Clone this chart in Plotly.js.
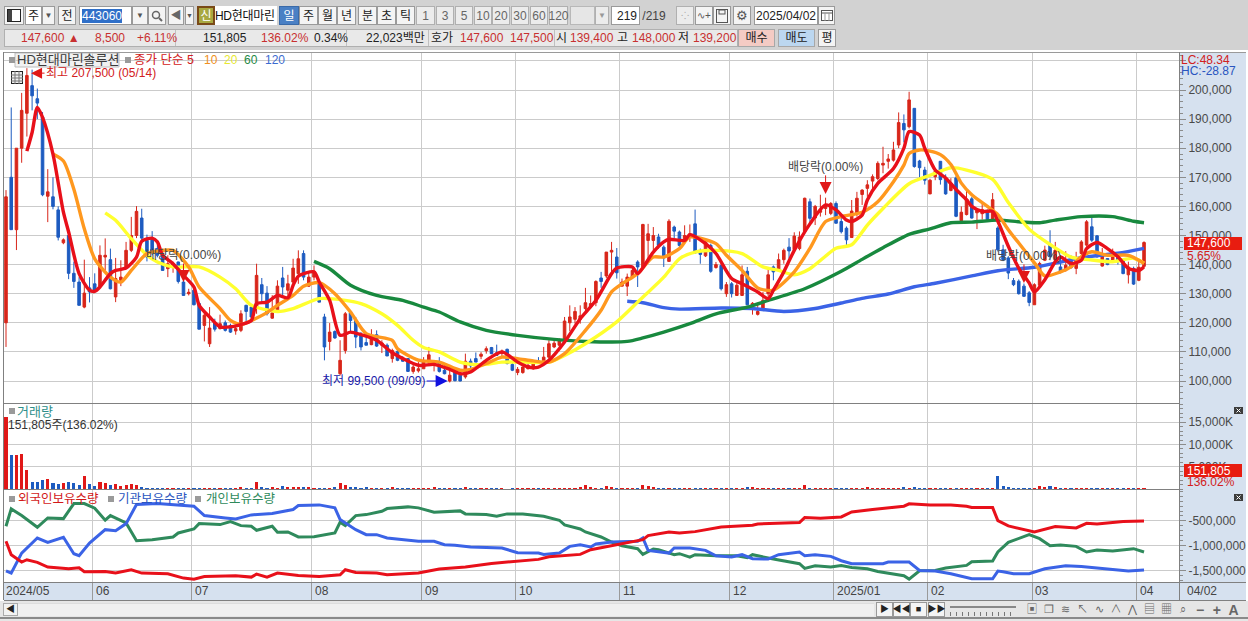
<!DOCTYPE html>
<html lang="ko"><head><meta charset="utf-8">
<script src="https://cdn.plot.ly/plotly-3.0.1.min.js"></script>
<style>
html,body{margin:0;padding:0;width:1248px;height:621px;overflow:hidden;background:#d0d0d0;font-family:"Liberation Sans","Noto Sans CJK KR",sans-serif;font-size:12px;color:#222}
#ui{position:absolute;left:0;top:0;width:1248px;height:621px}
#ui div{position:absolute;box-sizing:border-box;white-space:nowrap;line-height:1;display:flex;align-items:center;justify-content:center}
#chart{position:absolute;left:0;top:0;width:1248px;height:621px}
</style></head><body>
<div id="ui"></div><div id="chart"></div>
<script>
// ---------- DATA (prices in KRW thousands, volume in thousand shares, holdings in thousand shares) ----------
const opens=[120,170,152,180,192,201.5,197,190.7,163.5,163.3,158.8,147.5,150,137,134,125.4,132,133.4,132.6,142.6,141.7,128.9,134.6,139.2,144.9,150,156,148.3,148.9,145.5,143.8,138.6,139,140.9,134,130,131.2,126.6,119.1,112.8,120,118,120,119.1,117.2,117.4,126,125.4,125.4,133.1,130.2,121.6,123.9,135.4,131.2,134,136.9,143.8,132.6,135.7,133.4,122,113.6,117,102.5,110.5,123.5,120.8,115.7,113.2,112.5,115.9,112.3,112.3,107.7,110.2,107.7,107.7,103.3,103.5,104.2,106.5,106,106.5,103.7,100,103.3,102,101.4,106.8,107.7,108.5,110.4,111.5,109.7,109.5,110.9,105.7,102.9,102.9,104.2,104.2,106.9,106.9,108.2,111.7,112.3,113.6,120,121.2,121.2,124.9,125.4,126.9,135.4,136.1,144.3,142.6,132.6,132.6,135.7,140.9,139.2,148.3,148.3,149.5,146,141.1,152.9,151.2,147.8,149.5,154,144.3,143,146.6,139,139.7,130,133.4,129.4,129.4,137.7,125.9,122.9,124.5,130,139.2,138,141.7,146,145.2,145.5,151.3,161.6,156,158,159.3,157.6,161,154.8,152.5,149.3,157.6,164.1,166.2,168.7,169.6,174.2,175.5,175.9,181.1,188.5,187.4,193.7,175.6,172.5,164.3,170.2,175.5,169.8,165.5,169.8,155.1,157.2,162.6,157.8,157.5,158.5,155.5,152.6,145.1,142.3,134.5,134.3,132.6,130.3,126.2,132.9,141.5,146.7,141.5,139.2,138.1,141.5,138.7,143.8,146.7,153,149.9,139.5,142.1,141.5,143.5,141.2,136.5,138.7,134.6,139.4];
const highs=[165.6,194,180,199,207.5,207,200.5,192.4,172.8,170,160,149,150.5,141,135.7,141.7,135.7,137,146.6,149,145.5,142.3,141.5,147.8,156.4,160.1,159.2,150.3,151.5,147,145.5,143.2,141,141,137.5,131.7,132.3,126.8,123.7,125.4,121.4,122.8,120.8,119.7,118.6,124.3,126.2,126,140.3,135.4,132.6,129.5,134.6,139.2,136.5,142,144.9,144.9,136.9,139.7,134,123.1,119.9,117.4,114,123.7,124.3,122,116.8,115.7,117.8,117.4,114,112.9,111.1,110.8,108.5,107.9,106.5,106.5,108.2,111.7,107.2,108.2,105.4,103.7,103.7,102.2,109.4,107.7,109.8,109.9,111.9,111.7,112.5,110.8,111.1,106.5,104.8,105,106,106.5,108.2,111.7,114,114.3,114.6,122,126,125.4,126,132,129.4,134.6,137.5,144.3,147.8,145.7,135.2,136.9,139.2,141.5,154,154,152.9,150.6,146.6,155.6,153.4,151.7,153.5,153.8,158.9,145.5,148.9,147.2,140.9,140.3,134,134,134,139.7,139.2,127.1,126.6,130.6,138.6,139.7,143.8,145.5,149.1,151.1,151.4,163,162.7,160.5,164,163,161.5,161.7,156,153.1,162.2,165,165.9,169,171,175.5,180.5,178,182.2,192.3,191.6,199.4,193.7,176,173.6,169.5,173,175.6,171,169.7,170.4,160,166.3,163.2,159,161,158.9,164.6,153.2,146.8,142.9,135.4,134.9,133.5,130.9,133.6,141,146.5,151.8,147.8,143.2,144.6,143.2,144.4,148.4,155.3,156.4,150.1,145.7,142.2,145.5,143.9,141.5,141,139.3,141,148];
const lows=[111.7,152,145,175,184,193,190,163.5,154.6,159,148.3,147,135,132,126,125,127,130.5,132.3,138,131.5,127.1,132.6,138.6,144.3,149.1,148.3,141.1,143.2,142.5,138,135.7,137.2,133.5,129.4,129.4,126,117.8,113.6,111.7,117,117.7,117,116.5,115.9,116.8,120.3,121,123.1,126.9,122.5,121.4,123.7,129.4,128.3,133.2,133.4,134.6,132.3,134.6,127.1,107.1,110.5,114.5,101.9,109.4,116.8,111.3,110.5,112.3,112.3,111.7,109.6,108.6,106.3,106.8,106.6,103.1,102.5,102.9,104.2,105.9,103.3,102.9,102.3,99.5,99.9,99.9,100.8,104.3,106.5,107.5,109.4,109.2,108.6,108.2,105.7,103.4,102,102.5,104,103.9,106,106.5,107.7,111.3,111.7,113.4,117.1,119.7,119.7,123.7,124.9,125.7,132,135.4,137.4,135.2,132.6,129.2,135.7,132.3,138.6,142.1,144.9,145.5,139.2,141.1,149.1,146,147.2,147.8,143.8,140.3,142.6,137.2,138.6,131.1,128.9,128.7,129.2,129.2,126,122.8,122.5,124.3,128.9,134.6,137.5,140.3,142.1,144.5,144.9,151.2,153.6,153.6,156.5,157,157,154.2,150.7,146.7,149.3,156.5,160.5,163.3,165,169,171.4,173,175.4,180,182,186.8,173.3,169.9,167.5,164.2,169,167.5,164,165.2,156.3,155,156.9,155.8,152.2,155.5,154.9,155,144.5,141.2,135,132.6,129.7,128.9,125.7,126.2,132.3,141.2,141.5,140.3,137,137.6,138.7,136.7,142.7,146.1,147.8,142.4,139.3,139.8,141,140,136.7,133.5,133,134.3,139.2];
const closes=[163.3,152,180,193,205,198,195.5,164,165,160,149.4,148.5,137,134.2,126,130.2,130.6,131.2,143.2,143.2,131.7,135.2,135.7,144.9,150,158.3,149.1,142.6,144.3,143.2,138,140.3,140.3,134.2,129.4,130.5,126.2,117.8,122.6,118.2,117.8,119.7,117.4,116.8,118,123.1,123.9,122,136.3,130,123.1,123.4,132.6,132.3,133.4,138.8,142,135.7,135.7,137.5,127.1,111.7,116.8,114.8,107.1,123.1,120.8,115.1,111.7,112.3,114.5,112,113.1,108.6,110.5,107.1,106.8,103.3,104.8,104.2,106.5,109,106.6,103.3,102.5,102,100.1,100,106.8,105.2,106.5,109.2,111.1,109.4,108.8,110.2,106,103.7,104,104.8,105.4,106,106.5,108.2,112.8,113,114,120.6,122,123.9,122.4,126.9,126.6,134.2,134.2,144.3,144.9,137.2,134,135.7,138,139.2,153.8,150.6,150,146.6,142.3,154.9,151.5,146.6,150,150.6,144,143.5,147.8,137.7,140,131.7,133.1,130,132.9,136.5,126.2,126.7,123.9,127.7,136.5,137.5,141.7,144.9,144.7,149.8,149.5,162.8,155.9,160,158.6,160.4,161,154.2,151.3,148.5,158.4,162.8,165.6,167.4,170.2,174.8,174.8,176.3,179.4,188.8,186.3,196.6,173.7,173.3,169,169,172,169.2,164.3,168,156.6,158,162.3,156,158.6,158.9,154.9,162.3,145.1,141.7,137.1,133.1,130,129.1,127,133.1,140.4,145,142.7,145,137.5,139.8,138.9,142.1,147.8,154.7,148.4,142.7,143.2,140,144.4,141.5,136.9,139.2,133.3,139.1,147.6];
const volumes=[16200,7620,7620,7850,4260,1500,1640,2000,2240,1270,1120,1420,1500,1340,900,2900,1120,670,1500,1420,900,1120,750,970,1120,900,520,300,280,260,280,270,260,290,250,240,230,280,260,250,210,190,300,170,230,350,300,230,1500,420,300,380,300,670,350,520,450,360,340,300,200,330,300,350,1270,900,400,380,320,360,310,200,330,210,380,200,150,180,160,170,260,300,340,280,180,150,190,130,420,170,160,150,170,130,140,120,110,140,130,120,130,150,120,170,330,280,200,170,280,310,350,820,350,280,240,600,400,240,220,300,250,320,820,700,400,240,290,260,200,300,280,330,290,180,240,150,300,170,220,130,160,180,360,390,170,200,150,180,190,210,170,240,200,900,330,180,170,140,160,190,170,160,180,130,280,350,300,280,200,260,180,300,350,280,520,300,330,180,170,150,190,130,300,170,280,140,200,240,130,150,2900,600,350,300,280,260,240,310,600,350,600,340,300,220,180,240,310,290,200,130,120,150,170,130,140,120,150,130,152];

const ma5X=[4,5,6,7,9,11,12,14,16,17,18,20,21,23,25,26,28,29,30,32,34,36,37,39,41,43,45,47,48,50,52,54,55,56,59,60,62,64,66,68,71,74,79,82,85,87,89,92,95,98,100,102,104,107,110,113,116,117,120,121,124,126,127,130,131,134,136,139,141,144,146,147,149,151,154,157,159,161,162,164,165,167,170,172,173,175,176,178,180,182,184,185,187,189,190,192,194,196,197,199,201,202,204,206,207,209,211,213,215,217,218];
const ma5Y=[179,185.4,194,190.6,178,158,151.2,136.9,131.2,130.8,132.3,136.9,138,138.8,142.6,148,149.1,147.8,143.2,140.3,136.3,132.3,126,122,118.6,118.6,119.4,120.8,126.6,127.1,129.4,128.6,132.9,136,137.5,134,127.7,115.7,116.8,115.9,114,109.7,105.4,105.7,104,102.5,103.1,107.1,110,106.5,104.8,104.8,107.1,113.4,121.4,127.7,136.9,138.8,139.2,136.9,144.3,147.8,148.7,148.3,150.3,147.2,143.8,135.2,133.4,130.6,128.3,131.2,137.5,144.9,154,160.5,158.8,155.3,154.8,157,162.2,167.9,173,180,185.7,184.5,180,172.5,169.8,165.8,162.3,160,158.3,158.3,154.9,146.3,138.8,133.7,130.6,134.8,141,142.6,140.4,141.5,145.5,147.6,145.5,142.7,138.7,138,139.3];
const ma10X=[9,11,13,15,17,20,22,24,27,30,32,35,37,41,43,45,47,50,52,55,57,60,63,66,69,74,75,79,83,87,89,92,95,98,101,104,107,111,114,116,118,121,124,126,129,131,136,138,141,144,147,151,154,157,160,164,167,170,172,173,175,177,179,181,183,185,188,190,192,194,197,199,202,204,206,208,211,215,217,218];
const ma10Y=[178,175.6,165.9,152.3,142,135.7,134,138,143.8,144.9,144.9,139.2,132.3,124.9,120.8,119.4,120.8,123.5,126,129.4,132.6,133.8,130,123.7,116.3,114,111.1,107.2,106.5,103.7,104,106,108.2,107.7,106.9,106.5,109.4,117.4,124.3,130.6,133.4,136.9,142.6,142.6,145.5,149.5,147.2,143.2,138,132,131.2,137.5,145.6,154.8,156.5,158,161.6,168.5,174.2,178.2,179.4,179,177.8,174.4,168,164,160,157.2,152,147.4,140.6,136.1,137.5,139.2,142.7,144.4,143.2,143.2,141.5,140.4];
const ma20X=[19,21,24,27,29,32,37,41,44,47,52,55,60,65,68,72,75,78,80,83,87,91,95,99,104,107,111,117,121,126,129,132,136,141,145,148,151,154,159,162,165,168,173,177,181,184,189,192,196,200,204,208,212,216,218];
const ma20Y=[157.8,155.2,148.9,143.2,140.9,139.2,139.2,135.7,131.7,126,123.9,124.9,128.3,127.7,126.6,123.1,119.1,114,111.5,110,106.5,105.6,106.5,106.5,106.5,108.8,112.8,120.3,127.1,135.7,142,144.3,144.9,143.8,139.2,138,136.5,138.6,145.6,146.8,153.6,159.3,167.8,170.7,173.3,172.5,169.3,161.3,152.2,146.9,142.6,141.6,141,142.2,140.5];
const ma60X=[59,62,66,71,76,80,83,87,92,98,105,111,119,122,126,131,136,142,146,153,160,164,168,173,177,181,185,190,195,198,201,206,212,216,218];
const ma60Y=[141.1,138.6,132.9,129.4,127.7,125.4,123.7,120.3,117.4,115.7,114.3,113.6,113.6,114.8,116.8,119.7,123.1,125.4,127.7,131.7,137.7,141.8,145.8,150.4,152.3,154.4,154.6,155.3,154.6,154.4,155.3,156.5,156.5,154.9,154.4];
const ma120X=[119,122,126,129,137,143,149,155,160,164,169,174,178,185,190,197,201,206,213,218];
const ma120Y=[127.4,126.9,125.2,124.7,125.1,124.9,123.9,124.9,126.8,128.4,129.9,132.4,133.6,136.1,137.9,139.1,140.5,142.4,143.9,145.6];

const foreignX=[0,1,3,4,6,8,12,14,15,19,21,24,26,31,34,36,38,44,47,48,50,52,56,60,64,65,67,71,73,79,83,88,93,98,102,104,110,112,116,120,122,123,127,129,132,137,143,144,152,153,156,160,162,166,172,173,177,181,184,185,189,190,192,197,201,205,207,209,214,218];
const foreignV=[-912,-1182,-1331,-1284,-1338,-1432,-1466,-1446,-1527,-1520,-1554,-1487,-1554,-1568,-1655,-1676,-1622,-1608,-1635,-1574,-1635,-1554,-1601,-1622,-1588,-1487,-1540,-1554,-1588,-1554,-1473,-1432,-1358,-1318,-1277,-1223,-1176,-1081,-1000,-919,-878,-797,-723,-743,-716,-622,-588,-561,-534,-432,-446,-419,-318,-270,-203,-155,-176,-176,-203,-230,-230,-493,-601,-723,-615,-642,-547,-561,-514,-500];
const instX=[0,1,3,6,8,11,13,14,16,19,21,23,25,29,36,38,42,44,47,51,55,56,60,63,64,67,69,71,73,79,82,84,86,89,95,98,102,103,106,108,110,112,113,115,116,121,122,123,127,128,131,134,136,139,141,143,146,148,152,153,155,158,160,162,168,169,173,175,178,181,185,189,190,191,193,196,199,203,206,215,218];
const instV=[-1507,-1554,-1149,-845,-932,-831,-1162,-1203,-946,-676,-696,-554,-169,-149,-203,-392,-439,-459,-378,-351,-270,-189,-176,-236,-473,-676,-777,-777,-845,-912,-912,-980,-993,-1027,-1047,-1142,-1149,-1176,-1149,-1014,-980,-1027,-966,-946,-926,-912,-845,-1095,-1149,-1047,-1047,-1095,-1203,-1230,-1182,-1264,-1270,-1182,-1128,-1203,-1182,-1216,-1304,-1365,-1365,-1331,-1331,-1500,-1514,-1568,-1669,-1669,-1514,-1527,-1568,-1568,-1466,-1405,-1419,-1514,-1493];
const indivX=[0,1,3,6,8,11,13,15,17,19,20,23,25,28,32,33,36,37,41,43,45,47,48,51,52,54,56,59,63,64,65,67,69,72,73,77,79,82,87,88,92,94,96,99,103,106,107,110,111,114,116,118,121,122,124,125,128,129,131,132,136,140,142,143,147,152,153,155,158,160,162,165,167,172,173,175,178,180,184,185,189,190,192,196,198,200,202,205,207,209,212,216,218];
const indivV=[-608,-257,-392,-628,-439,-453,-149,-149,-243,-486,-392,-541,-899,-878,-824,-743,-662,-554,-574,-514,-595,-608,-689,-608,-730,-723,-824,-818,-743,-527,-595,-392,-372,-304,-250,-216,-236,-324,-297,-358,-372,-405,-358,-358,-405,-486,-581,-662,-723,-824,-926,-1000,-1061,-1176,-1068,-1081,-1182,-1162,-1230,-1182,-1203,-1203,-1243,-1182,-1270,-1365,-1460,-1405,-1432,-1399,-1439,-1466,-1520,-1608,-1676,-1507,-1500,-1453,-1399,-1324,-1311,-1128,-932,-777,-858,-1000,-986,-1014,-1128,-1088,-1108,-1061,-1128];

const monthIdx=[17,36,59,80,98,118,139,159,177,197,217];
const monthLabels=['06','07','08','09','10','11','12','2025/01','02','03','04'];
const priceTicks=[100,110,120,130,140,150,160,170,180,190,200,210];
const priceTickText=['100,000','110,000','120,000','130,000','140,000','150,000','160,000','170,000','180,000','190,000','200,000',''];
const volTicks=[5000,10000,15000];
const volTickText=['5,000K','10,000K','15,000K'];
const holdTicks=[-500,-1000,-1500];
const holdTickText=['-500,000','-1,000,000','-1,500,000'];

// ---------- layout helpers ----------
const W=1248,H=621;
const fx=p=>p/W, fy=p=>1-p/H;
const idx=opens.map((_,i)=>i);
const RED='#e01818',BLUE='#1d5bc0';
const gridC='#cbcbcb',axisC='#8c8c8c',tickC='#4a4a4a';
const FONT='"Liberation Sans","Noto Sans CJK KR",sans-serif';

const line=(x,y,c,w,ya,shape)=>({type:'scatter',mode:'lines',x,y,yaxis:ya,hoverinfo:'skip',line:{color:c,width:w,shape:shape||'linear',smoothing:0.7}});
const traces=[
 {type:'bar',x:idx,y:volumes,yaxis:'y2',marker:{color:idx.map(i=>closes[i]>=opens[i]?RED:BLUE),line:{width:0}},width:0.6,hoverinfo:'skip'},
 {type:'candlestick',x:idx,open:opens,high:highs,low:lows,close:closes,yaxis:'y',hoverinfo:'skip',whiskerwidth:0,
  increasing:{line:{color:'#d8261a',width:1},fillcolor:'#d8261a'},decreasing:{line:{color:BLUE,width:1},fillcolor:BLUE}},
 line(ma120X,ma120Y,'#3b63e6',3.4,'y','spline'),
 line(ma60X,ma60Y,'#18893e',3.4,'y','spline'),
 line(ma20X,ma20Y,'#ffff2e',3.4,'y','spline'),
 line(ma10X,ma10Y,'#ff981e',3.4,'y','spline'),
 line(ma5X,ma5Y,'#e8101a',3.4,'y','spline'),
 line(indivX,indivV,'#2f8a5c',3,'y3'),
 line(instX,instV,'#3b63e6',3,'y3'),
 line(foreignX,foreignV,'#e8101a',3,'y3'),
];

const note=(x,y,text,color,size,anchor)=>({xref:'paper',yref:'paper',x:fx(x),y:fy(y),text,showarrow:false,xanchor:anchor||'left',yanchor:'middle',font:{color:color||'#333',size:size||12,family:FONT},borderpad:0,borderwidth:0});
const divNote=(i,p,ay)=>({xref:'x',yref:'y',x:i,y:p,text:'배당락(0.00%)',showarrow:true,ax:0,ay,arrowhead:2,arrowsize:2.4,arrowwidth:1,arrowcolor:'#e01818',standoff:0,font:{color:'#444',size:12,family:FONT},bgcolor:'rgba(255,255,255,0)'});
const annotations=[
 {xref:'x',yref:'y',x:4.8,y:205.8,text:'최고 207,500 (05/14)',showarrow:true,ax:70,ay:0,arrowhead:2,arrowsize:2.2,arrowwidth:1,arrowcolor:'#e01818',standoff:0,font:{color:'#d22020',size:12,family:FONT}},
 {xref:'x',yref:'y',x:84.6,y:100,text:'최저 99,500 (09/09)',showarrow:true,ax:-74,ay:0,arrowhead:2,arrowsize:2.4,arrowwidth:1,arrowcolor:'#1010e0',standoff:0,font:{color:'#1818a8',size:12,family:FONT}},
 divNote(34,134,-27),divNote(157,164.3,-27),divNote(195,133.7,-27),
 note(17,60,'HD현대마린솔루션','#3a3a3a',13),
 note(134,60,'종가 단순 5','#d22020',12.5),
 note(204,60,'10','#f09020',12),
 note(224,60,'20','#e8e830',12),
 note(244,60,'60','#1f8a45',12),
 note(265,60,'120','#3b6bd0',12),
 note(1181,60,'LC:48.34','#d22020',12),
 note(1181,71,'HC:-28.87','#2a55c0',12),
 note(1187,243.5,'147,600','#ffffff',12),
 note(1187,256,'5.65%','#d22020',12),
 note(1187,470.5,'151,805','#ffffff',12),
 note(1187,482,'136.02%','#d22020',12),
 note(17,411.5,'거래량','#2e8f8a',13),
 note(8,425,'151,805주(136.02%)','#333',12),
 note(18,499,'외국인보유수량','#d21818',12.5),
 note(118,499,'기관보유수량','#2a55c0',12.5),
 note(206,499,'개인보유수량','#2f8a5c',12.5),
 note(1187,590.5,'04/02','#444',12),
 note(6,590.5,'2024/05','#444',12),
 ...monthIdx.map((m,k)=>({xref:'x',yref:'paper',x:m-0.4,y:fy(590.5),text:monthLabels[k],showarrow:false,xanchor:'left',yanchor:'middle',xshift:1,font:{color:'#444',size:12,family:FONT}}))
];
const rect=(x0,y0,x1,y1,fill,layer,lc)=>({type:'rect',xref:'paper',yref:'paper',x0:fx(x0),x1:fx(x1),y0:fy(y0),y1:fy(y1),fillcolor:fill,line:{width:lc?1:0,color:lc||fill},layer:layer||'below'});
const hl=(x0,x1,y,c)=>({type:'line',xref:'paper',yref:'paper',x0:fx(x0),x1:fx(x1),y0:fy(y),y1:fy(y),line:{color:c,width:1},layer:'above'});
const cross=(x,y)=>[[x,y,x+4,y+4],[x,y+4,x+4,y]].map(c=>({type:'line',xref:'paper',yref:'paper',x0:fx(c[0]),x1:fx(c[2]),y0:fy(c[1]),y1:fy(c[3]),line:{color:'#ffffff',width:1},layer:'above'}));
const shapes=[
 rect(0,50,1248,601,'#ffffff'),
 rect(1180,52,1246,600,'#d6e1ef'),
 rect(4,583,1180,600,'#d6e1ef'),
 hl(4,1246,52.5,'#9a9a9a'),hl(4,1179,403.5,'#808080'),hl(4,1179,489.5,'#808080'),hl(4,1246,582.5,'#808080'),hl(4,1246,600.5,'#808080'),
 {type:'line',xref:'paper',yref:'paper',x0:fx(3.5),x1:fx(3.5),y0:fy(52),y1:fy(600),line:{color:'#808080',width:1},layer:'above'},
 {type:'line',xref:'paper',yref:'paper',x0:fx(1179.5),x1:fx(1179.5),y0:fy(52),y1:fy(600),line:{color:'#808080',width:1},layer:'above'},
 rect(1184,237,1242,250,'#e81c10','above'),
 rect(1184,464,1242,477,'#e81c10','above'),
 rect(9,57,15,63,'#9a9a9a','above'),rect(125,57,131,63,'#9a9a9a','above'),
 rect(9,408,15,414,'#9a9a9a','above'),
 rect(9,496,15,502,'#9a9a9a','above'),rect(108,496,114,502,'#9a9a9a','above'),rect(195,496,201,502,'#9a9a9a','above'),
 rect(1234,407,1243,414,'#3c3c3c','above'),rect(1234,494,1243,501,'#3c3c3c','above'),
 ...cross(1236.5,408.5),...cross(1236.5,495.5),
 rect(15,53,119,67,'rgba(232,232,232,0.6)','below','#bdbdbd'),
];

const yBase={side:'right',anchor:'x',showline:true,linecolor:axisC,gridcolor:gridC,gridwidth:1,zeroline:false,ticks:'outside',ticklen:6,tickcolor:axisC,
 tickfont:{size:12,color:tickC,family:FONT},tickmode:'array',fixedrange:true};
const layout={
 width:W,height:H,margin:{l:0,r:0,t:0,b:0,pad:0},paper_bgcolor:'rgba(0,0,0,0)',plot_bgcolor:'#ffffff',showlegend:false,bargap:0,dragmode:false,
 font:{family:FONT,size:12},
 xaxis:{domain:[fx(4),fx(1179)],range:[-0.383,224.7],anchor:'y3',type:'linear',tickmode:'array',tickvals:monthIdx.map(m=>m-0.4),ticktext:monthIdx.map(()=>''),ticks:'outside',ticklen:17,tickcolor:'#9a9a9a',
  showgrid:true,gridcolor:gridC,gridwidth:1,zeroline:false,showline:false,rangeslider:{visible:false},fixedrange:true},
 yaxis:{...yBase,domain:[fy(403),fy(52)],range:[92.44,213.06],tickvals:priceTicks,ticktext:priceTickText,minor:{tickmode:'linear',tick0:0,dtick:2,ticks:'outside',ticklen:3,tickcolor:axisC,showgrid:false}},
 yaxis2:{...yBase,domain:[fy(489),fy(404)],range:[0,19100],tickvals:volTicks,ticktext:volTickText,minor:{tickmode:'linear',tick0:0,dtick:1000,ticks:'outside',ticklen:3,tickcolor:axisC,showgrid:false}},
 yaxis3:{...yBase,domain:[fy(582),fy(490)],range:[-1734,125],tickvals:holdTicks,ticktext:holdTickText,minor:{tickmode:'linear',tick0:0,dtick:100,ticks:'outside',ticklen:3,tickcolor:axisC,showgrid:false}},
 shapes,annotations
};
Plotly.newPlot('chart',traces,layout,{staticPlot:true,displayModeBar:false,responsive:false});

// ---------- window chrome (toolbar, status strip, scrollbar) ----------
const ui=document.getElementById('ui');
function bx(x,y,w,h,t,css){const d=document.createElement('div');d.style.cssText=`left:${x}px;top:${y}px;width:${w}px;height:${h}px;`+(css||'');if(t!==undefined)d.innerHTML=t;ui.appendChild(d);return d;}
const btn='background:#f4f4f4;border:1px solid #9a9a9a;';
const btn2='background:#ececec;border:1px solid #b0b0b0;color:#666;';
const white='background:#fff;border:1px solid #9a9a9a;';
const RT='color:#c83030;justify-content:flex-start;';
const BK='color:#222;justify-content:flex-start;';
bx(0,0,1248,50,'','background:#d2d2d2;');
bx(4,6,20,19,'<svg width="14" height="13"><rect x=".5" y=".5" width="13" height="12" fill="#fff" stroke="#222"/><rect x="1" y="1" width="4" height="11" fill="#444"/></svg>',btn);
bx(25,6,17,19,'주',white);bx(42,6,13,19,'<span style="font-size:8px;color:#555">▼</span>',btn);
bx(58,6,18,19,'전',btn);
bx(79,6,53,19,'<span style="background:#2f6fc8;color:#fff;padding:1px 0">443060</span>',white+'justify-content:flex-start;padding-left:2px;');
bx(132,6,16,19,'<span style="font-size:8px;color:#555">▼</span>',btn);
bx(148,6,18,19,'<svg width="12" height="12"><circle cx="5" cy="5" r="3.5" fill="none" stroke="#666" stroke-width="1.5"/><line x1="8" y1="8" x2="11" y2="11" stroke="#666" stroke-width="2"/></svg>',btn);
bx(168,6,16,19,'<span style="color:#666;font-size:11px">◀</span>',btn);bx(185,6,9,19,'<span style="font-size:7px;color:#555">▼</span>',btn);
bx(197,6,18,19,'<span style="color:#fff">신</span>','background:#a8a840;border:2px solid #7a4a18;');
bx(215,6,62,19,'HD현대마린','background:#fff;justify-content:flex-start;letter-spacing:-.3px;color:#111;');
[['일',279,1],['주',299],['월',318],['년',337],['분',358],['초',377],['틱',396]].forEach(a=>bx(a[1],6,a[0]=='일'?20:19,19,a[0],a[2]?'background:#4a80c4;color:#fff;border:1px solid #3a6aa8;':btn));
[['1',416,19],['3',436,18],['5',455,18],['10',474,18],['20',492,18],['30',511,18],['60',530,18],['120',549,19]].forEach(a=>bx(a[1],6,a[2],19,a[0],btn2));
bx(570,6,25,19,'','background:#e6e6e6;border:1px solid #b8b8b8;');bx(595,6,14,19,'<span style="font-size:8px;color:#999">▼</span>',btn2);
bx(611,6,29,19,'219',white+'justify-content:flex-end;padding-right:2px;');
bx(641,6,26,19,'/219','color:#444;');
bx(676,6,18,19,'<span style="color:#aaa;font-size:10px">⁘</span>',btn2);
bx(695,6,18,19,'<span style="color:#555;font-size:10px">∿+</span>',btn);
bx(713,6,18,19,'<svg width="12" height="14"><rect x=".5" y=".5" width="11" height="13" fill="none" stroke="#555"/><rect x="3" y="1" width="6" height="4" fill="none" stroke="#555"/></svg>',btn);
bx(733,6,18,19,'<span style="color:#555;font-size:13px">⚙</span>',btn);
bx(754,6,64,19,'2025/04/02',white);
bx(818,6,17,19,'<svg width="12" height="11"><rect x=".5" y=".5" width="11" height="10" fill="#fff" stroke="#555"/><line x1="0" y1="3" x2="12" y2="3" stroke="#555"/><line x1="4" y1="3" x2="4" y2="11" stroke="#999"/><line x1="8" y1="3" x2="8" y2="11" stroke="#999"/></svg>',btn);
bx(4,29,734,18,'','background:#e9e9e9;border:1px solid #b0b0b0;');
bx(175,30,1,16,'','background:#c0c0c0;');bx(346,30,1,16,'','background:#c0c0c0;');bx(428,30,1,16,'','background:#c0c0c0;');bx(554,30,1,16,'','background:#c0c0c0;');
[['147,600 ▲',21,RT],['8,500',95,RT],['+6.11%',137,RT],['151,805',203,BK],['136.02%',261,RT],['0.34%',314,BK],['22,023백만',366,BK],['호가',431,BK],['147,600',460,RT],['147,500',510,RT],['시',556,BK],['139,400',570,RT],['고',617,BK],['148,000',632,RT],['저',678,BK],['139,200',693,RT]].forEach(a=>bx(a[1],30,70,16,a[0],a[2]));
bx(738,29,37,18,'매수','background:#f4cbc4;border:1px solid #a8a8a8;');
bx(778,29,37,18,'매도','background:#bcd7f0;border:1px solid #a8a8a8;');
bx(818,29,18,18,'평',btn);
// table icon on the chart
const ico=bx(10,70,14,15,'<svg width="12" height="13"><rect x=".5" y=".5" width="11" height="12" fill="#eee" stroke="#222"/><path d="M0 4H12M0 7H12M0 10H12M4 0V13M8 0V13" stroke="#777"/></svg>','');
ico.style.zIndex=5;
// bottom bar
bx(0,601,1248,20,'','background:#e6e6e6;z-index:1;');
bx(0,617,1248,2,'','background:#8a8a8a;z-index:2;');
bx(3,603,15,13,'<span style="font-size:9px">◀</span>','background:#f2f2f2;border:1px solid #aaa;z-index:2;');
bx(18,603,856,13,'','background:#f0f0f0;border-top:1px solid #ddd;z-index:2;');
[['▶',876],['◀◀',893],['■',910],['▶▶',928]].forEach(a=>bx(a[1],602,17,15,'<span style="font-size:9px">'+a[0]+'</span>','background:#f4f4f4;border:1px solid #999;z-index:2;'));
bx(950,606,66,2,'','background:#888;z-index:2;');
bx(950,612,66,4,'','background:repeating-linear-gradient(90deg,#777 0 1px,transparent 1px 6px);z-index:2;');
['▣','❐','≋','↖','∿','∧','⋀','▤','▦','⌕','−','+','A'].forEach((g,k)=>bx(1024+k*16.8,602,16,15,'<span style="color:#666;font-size:'+(k>9?14:11)+'px;font-weight:'+(k>9?'bold':'normal')+'">'+g+'</span>','z-index:2;'));
document.getElementById('chart').style.pointerEvents='none';
</script></body></html>
